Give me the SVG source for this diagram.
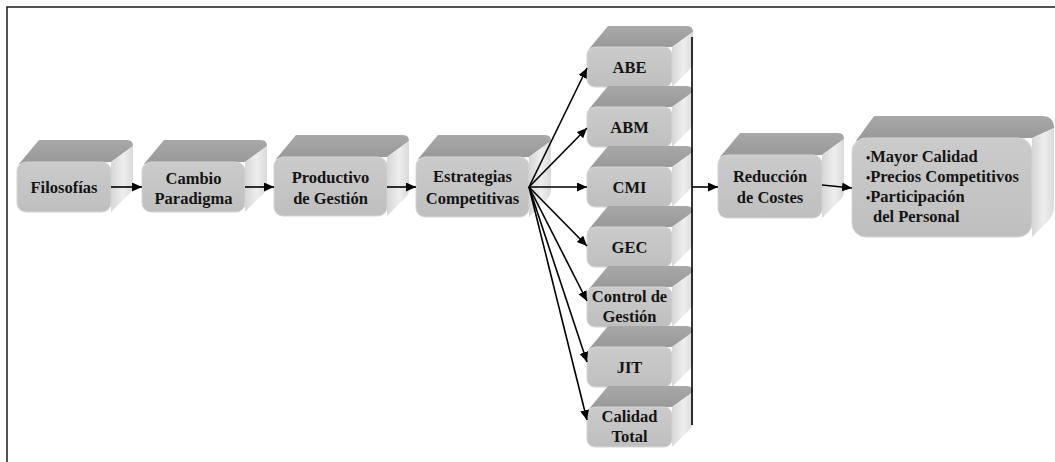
<svg xmlns="http://www.w3.org/2000/svg" xmlns:xlink="http://www.w3.org/1999/xlink" width="1055" height="462" viewBox="0 0 1055 462">
  <defs>
    <style>
      .top { fill: url(#gTop); }
      .side { fill: url(#gSide); }
      .front { fill: url(#gFront); stroke: #d4d4d4; stroke-width: 1; }
      text { font-family: 'Liberation Serif', 'DejaVu Serif', serif; font-weight: bold; font-size: 16.5px; fill: #141414; }
      .lbl { text-anchor: middle; }
      .bul { font-size: 12px; }
      .arr { stroke: #000; stroke-width: 1.6; fill: none; marker-end: url(#head); }
      .frame { stroke: #1a1a1a; stroke-width: 1.5; fill: none; }
    </style>
    <linearGradient id="gTop" x1="0" y1="0" x2="0" y2="1">
      <stop offset="0" stop-color="#a8a8a8"/>
      <stop offset="1" stop-color="#989898"/>
    </linearGradient>
    <linearGradient id="gSide" x1="0" y1="0" x2="1" y2="0">
      <stop offset="0" stop-color="#d6d6d6"/>
      <stop offset="0.55" stop-color="#eeeeee"/>
      <stop offset="1" stop-color="#dadada"/>
    </linearGradient>
    <linearGradient id="gFront" x1="0" y1="0" x2="0" y2="1">
      <stop offset="0" stop-color="#cbcbcb"/>
      <stop offset="1" stop-color="#bfbfbf"/>
    </linearGradient>
    <marker id="head" markerUnits="userSpaceOnUse" markerWidth="11" markerHeight="10" refX="10" refY="4.5" orient="auto">
      <path d="M0,0 L10,4.5 L0,9 Z" fill="#000"/>
    </marker>
    <!-- small block used in the right-hand column -->
    <g id="colBox">
      <path class="top" d="M2,2 L21,-21 L100,-21 Q106,-21 106,-15 L85,0 Z"/>
      <path class="side" d="M85,0 L106,-15 L106,15 Q106,19 103,22 L85,40 Z"/>
      <rect class="front" x="0" y="0" width="85" height="40" rx="8"/>
    </g>
  </defs>

  <!-- frame -->
  <path class="frame" d="M7,462 L7,7 L1055,7"/>

  <g id="filosofias">
    <path class="top" d="M19,164 L39,140 L127,140 Q133,140 133,146 L111,162 Z"/>
    <path class="side" d="M111,162 L133,146 L133,186 Q133,190 130,193 L111,212 Z"/>
    <rect class="front" x="17" y="162" width="94" height="50" rx="9"/>
    <text class="lbl" x="64" y="193" font-family="Liberation Serif">Filosofías</text>
  </g>

  <g id="cambio">
    <path class="top" d="M144,164 L164,140 L261,140 Q267,140 267,146 L245,162 Z"/>
    <path class="side" d="M245,162 L267,146 L267,186 Q267,190 264,193 L245,212 Z"/>
    <rect class="front" x="142" y="162" width="103" height="50" rx="9"/>
    <text class="lbl" x="193.5" y="184" font-family="Liberation Serif">Cambio</text>
    <text class="lbl" x="193.5" y="204" font-family="Liberation Serif">Paradigma</text>
  </g>

  <g id="productivo">
    <path class="top" d="M276,159 L296,135 L403,135 Q409,135 409,141 L387,157 Z"/>
    <path class="side" d="M387,157 L409,141 L409,190 Q409,194 406,197 L387,216 Z"/>
    <rect class="front" x="274" y="157" width="113" height="59" rx="9"/>
    <text class="lbl" x="330.5" y="183" font-family="Liberation Serif">Productivo</text>
    <text class="lbl" x="330.5" y="204" font-family="Liberation Serif">de Gestión</text>
  </g>

  <g id="estrategias">
    <path class="top" d="M418,159 L438,135 L545,135 Q551,135 551,141 L529,157 Z"/>
    <path class="side" d="M529,157 L551,141 L551,191 Q551,195 548,198 L529,217 Z"/>
    <rect class="front" x="416" y="157" width="113" height="60" rx="9"/>
    <text class="lbl" x="472.5" y="182" font-family="Liberation Serif">Estrategias</text>
    <text class="lbl" x="472.5" y="204" font-family="Liberation Serif">Competitivas</text>
  </g>

  <g id="abe">
    <use xlink:href="#colBox" transform="translate(587,47)"/>
    <text class="lbl" x="629.5" y="73" font-family="Liberation Serif">ABE</text>
  </g>
  <g id="abm">
    <use xlink:href="#colBox" transform="translate(587,107)"/>
    <text class="lbl" x="629.5" y="133" font-family="Liberation Serif">ABM</text>
  </g>
  <g id="cmi">
    <use xlink:href="#colBox" transform="translate(587,167)"/>
    <text class="lbl" x="629.5" y="193" font-family="Liberation Serif">CMI</text>
  </g>
  <g id="gec">
    <use xlink:href="#colBox" transform="translate(587,227)"/>
    <text class="lbl" x="629.5" y="253" font-family="Liberation Serif">GEC</text>
  </g>
  <g id="control">
    <use xlink:href="#colBox" transform="translate(587,287)"/>
    <text class="lbl" x="629.5" y="302" font-family="Liberation Serif">Control de</text>
    <text class="lbl" x="629.5" y="322" font-family="Liberation Serif">Gestión</text>
  </g>
  <g id="jit">
    <use xlink:href="#colBox" transform="translate(587,347)"/>
    <text class="lbl" x="629.5" y="373" font-family="Liberation Serif">JIT</text>
  </g>
  <g id="calidad">
    <use xlink:href="#colBox" transform="translate(587,407)"/>
    <text class="lbl" x="629.5" y="422" font-family="Liberation Serif">Calidad</text>
    <text class="lbl" x="629.5" y="442" font-family="Liberation Serif">Total</text>
  </g>

  <g id="reduccion">
    <path class="top" d="M720,157 L740,133 L838,133 Q844,133 844,139 L822,155 Z"/>
    <path class="side" d="M822,155 L844,139 L844,192 Q844,196 841,199 L822,218 Z"/>
    <rect class="front" x="718" y="155" width="104" height="63" rx="9"/>
    <text class="lbl" x="770" y="182" font-family="Liberation Serif">Reducción</text>
    <text class="lbl" x="770" y="203" font-family="Liberation Serif">de Costes</text>
  </g>

  <g id="resultados">
    <path class="top" d="M856,141 L874,116 L1042,116 Q1054,116 1054,128 L1032,138 Z"/>
    <path class="side" d="M1032,138 L1054,128 L1054,205 Q1054,215 1048,221 L1032,237 Z"/>
    <rect class="front" x="852" y="138" width="180" height="99" rx="14"/>
    <text x="866" y="162" font-family="Liberation Serif"><tspan class="bul">•</tspan>Mayor Calidad</text>
    <text x="866" y="182" font-family="Liberation Serif"><tspan class="bul">•</tspan>Precios Competitivos</text>
    <text x="866" y="202" font-family="Liberation Serif"><tspan class="bul">•</tspan>Participación</text>
    <text x="873" y="222" font-family="Liberation Serif">del Personal</text>
  </g>

  <g id="connectors">
    <line class="arr" x1="111" y1="187" x2="142" y2="187"/>
    <line class="arr" x1="245" y1="187" x2="274" y2="187"/>
    <line class="arr" x1="387" y1="187" x2="416" y2="187"/>
    <line class="arr" x1="529" y1="187" x2="587" y2="68"/>
    <line class="arr" x1="529" y1="187" x2="587" y2="128"/>
    <line class="arr" x1="529" y1="187" x2="587" y2="187"/>
    <line class="arr" x1="529" y1="187" x2="587" y2="246"/>
    <line class="arr" x1="529" y1="187" x2="587" y2="301"/>
    <line class="arr" x1="529" y1="187" x2="587" y2="362"/>
    <line class="arr" x1="529" y1="187" x2="587" y2="420"/>
    <line x1="692" y1="37" x2="692" y2="425" stroke="#000" stroke-width="1.6"/>
    <line class="arr" x1="692" y1="187" x2="718" y2="187"/>
    <line class="arr" x1="822" y1="185" x2="852" y2="188"/>
  </g>
</svg>
